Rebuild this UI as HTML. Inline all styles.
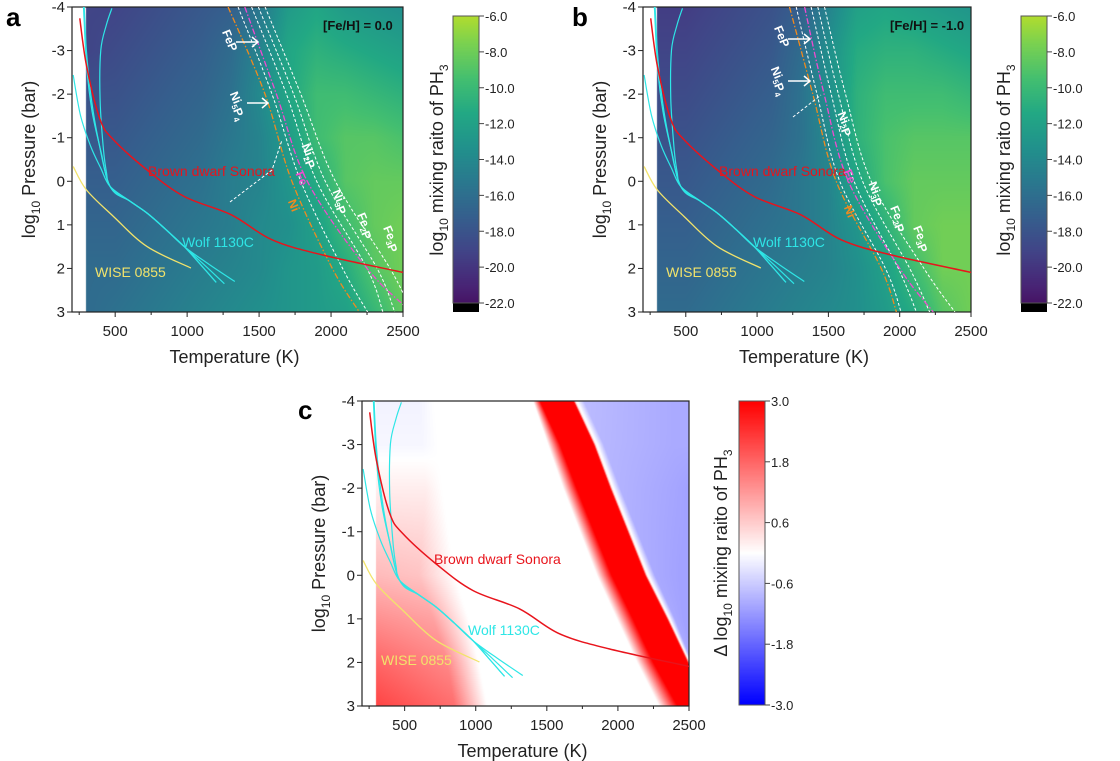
<!DOCTYPE html>
<html><head><meta charset="utf-8">
<style>
html,body{margin:0;padding:0;background:#fff;}
#wrap{position:relative;width:1120px;height:761px;overflow:hidden;font-family:"Liberation Sans",Arial,sans-serif;}
canvas{position:absolute;}
svg{position:absolute;left:0;top:0;}
</style></head>
<body>
<div id="wrap">
<canvas id="cva" width="331" height="305" style="left:72px;top:7px"></canvas>
<canvas id="cvb" width="328" height="305" style="left:643px;top:7px"></canvas>
<canvas id="cvc" width="327" height="305" style="left:362px;top:401px"></canvas>
<canvas id="cba" width="26" height="305" style="left:453px;top:7px"></canvas>
<canvas id="cbb" width="26" height="305" style="left:1021px;top:7px"></canvas>
<canvas id="cbc" width="26" height="304" style="left:739px;top:401px"></canvas>
<svg id="svg" width="1120" height="761" xmlns="http://www.w3.org/2000/svg"></svg>
</div>
<script>
// ---------- data ----------
const gridT = [300,500,700,900,1100,1300,1500,1700,1900,2100,2300,2500];
const gridP = [-4,-3,-2,-1,0,1,2,3];
const ph3A = [
 [-20,-20,-19.5,-19,-18.5,-18,-16,-13,-12,-13,-13.5,-14],
 [-20,-19.5,-19,-18.5,-18,-17,-15,-12,-11,-11.5,-12,-12.5],
 [-19,-19,-18.5,-18,-17.5,-16.5,-14.5,-12,-10,-10,-10.5,-11],
 [-18.5,-18.5,-18,-17.5,-17,-16,-15,-13,-10,-9,-9,-9.5],
 [-18,-18,-17.5,-17,-16.5,-15.5,-15,-13.5,-11.5,-9,-8.5,-8.5],
 [-17.5,-17.5,-17,-16.5,-16,-15.5,-14.5,-14,-12.5,-10,-8.5,-8],
 [-17,-17,-16.5,-16,-15.5,-15,-14.5,-13.5,-13,-11.5,-9,-8],
 [-17,-16.5,-16,-15.5,-15,-14.5,-14,-13.5,-13,-12.5,-10.5,-8.5]];
const ph3B = [
 [-20.5,-20.5,-20,-19.5,-19,-18,-15,-12.5,-12,-12.5,-13,-13.5],
 [-20,-20,-19.5,-19,-18.5,-17,-14,-11.5,-11,-11,-11.5,-12],
 [-19.5,-19.5,-19,-18.5,-18,-16.5,-14,-11,-10,-10,-10,-10.5],
 [-19,-19,-18.5,-18,-17.5,-16.5,-14.5,-11,-9.5,-9,-9,-9],
 [-18.5,-18.5,-18,-17.5,-17,-16,-15,-12,-9.5,-8.5,-8.5,-8.5],
 [-18,-18,-17.5,-17,-16.5,-16,-15,-13.5,-11,-8.5,-8,-8],
 [-17.5,-17.5,-17,-16.5,-16,-15.5,-15,-14,-12.5,-10,-8,-8],
 [-17,-17,-16.5,-16,-15.5,-15,-14.5,-14,-13,-11.5,-9,-8]];
// panel c: per-pressure rows of (temperature keypoint, delta value) pairs
const deltaRowP = [-4,-3,-2,0,1,2,3];
const deltaRowT = [
 [300,600,700,1403,1452,1687,1700,1760,2400,2500],
 [300,620,730,1508,1593,1830,1843,1900,2400,2500],
 [300,650,760,1615,1710,1945,1958,2015,2400,2500],
 [300,600,850,1852,1957,2191,2204,2260,2450,2500],
 [300,700,950,1993,2107,2345,2358,2400,2470,2500],
 [300,800,1020,2135,2250,2490,2503,2520,2540,2560],
 [300,850,1080,2290,2420,2640,2655,2670,2680,2690]];
const deltaRowV = [
 [-0.15,-0.15,0,0,3,3,0.2,-0.8,-1,-1],
 [-0.1,-0.1,0,0,3,3,0.2,-0.85,-1,-1],
 [0.2,0.2,0,0,3,3,0.2,-0.9,-1.05,-1.1],
 [0.8,0.7,0,0,3,3,0.2,-1,-1.1,-1.1],
 [1.3,1.1,0,0,3,3,0.2,-1,-1.1,-1.1],
 [1.8,1.4,0,0,3,3,0.2,-1,-1.1,-1.1],
 [2.2,1.7,0,0,3,3,0.2,-1,-1.1,-1.1]];

const sonoraT = [254,302,396,489,722,980,1307,1588,1939,2500];
const sonoraP = [-3.74,-2.63,-1.41,-0.95,-0.26,0.35,0.77,1.34,1.69,2.09];
const wiseT = [208,301,489,722,1026];
const wiseP = [-0.34,0.2,0.81,1.5,1.99];
const wolf1T = [280,302,340,400,465,600,722,850,980,1090,1202];
const wolf1P = [-4,-2.63,-1.6,-0.7,0.12,0.45,0.73,1.1,1.5,1.9,2.32];
const wolf2T = [208,260,330,400,465,600,722,850,980,1120,1259];
const wolf2P = [-2.44,-1.5,-0.8,-0.3,0.12,0.45,0.73,1.1,1.5,1.92,2.35];
const wolf3T = [477,440,400,395,419,440,465,600,722,850,980,1150,1331];
const wolf3P = [-3.97,-3.6,-3.01,-1.87,-0.72,-0.2,0.12,0.45,0.73,1.1,1.5,1.9,2.3];
const wolf4T = [285,300,330,380,465,600,722,850,980,1090,1202];
const wolf4P = [-4,-3,-2,-1,0.12,0.45,0.73,1.1,1.5,1.9,2.32];

const boundP = [-4,-2,0,2,3];
const niA  = [1285,1541,1728,2009,2196];
const feA  = [1401,1620,1835,2250,2560];
const w1A  = [1354,1590,1790,2080,2254];
const w2A  = [1448,1690,1900,2250,2360];
const w3A  = [1495,1740,1960,2320,2442];
const w4A  = [1542,1790,2030,2410,2560];
const niB  = [1227,1391,1555,1870,1977];
const feB  = [1333,1470,1640,2000,2235];
const w1B  = [1274,1420,1580,1900,2010];
const w2B  = [1379,1520,1680,1990,2117];
const w3B  = [1426,1570,1740,2070,2210];
const w4B  = [1473,1620,1800,2170,2387];

const xTicks = [500,1000,1500,2000,2500];
const xMinor = [250,750,1250,1750,2250];
const yTicks = [-4,-3,-2,-1,0,1,2,3];
const cbTicksAB = [-6,-8,-10,-12,-14,-16,-18,-20,-22];
const cbTicksC = [3.0,1.8,0.6,-0.6,-1.8,-3.0];

// ---------- geometry ----------
const T0=200,T1=2500,P0=-4,P1=3;
const panels = {
 a:{x:72,y:7,w:331,h:305},
 b:{x:643,y:7,w:328,h:305},
 c:{x:362,y:401,w:327,h:305}
};
function sx(p,T){return p.x+(T-T0)/(T1-T0)*p.w;}
function sy(p,P){return p.y+(P-P0)/(P1-P0)*p.h;}

// ---------- colormaps ----------
const vir=[[68,1,84],[72,36,117],[65,68,135],[53,95,141],[42,120,142],[33,145,140],[34,168,132],[68,191,112],[122,209,81],[189,223,38],[253,231,37]];
function viridis(v){
  let t=0.3+(v+18)*0.0483; t=Math.max(0,Math.min(1,t));
  const f=t*10,i=Math.min(9,Math.floor(f)),r=f-i;
  return vir[i].map((c,k)=>Math.round(c+(vir[i+1][k]-c)*r));
}
function bwr(d){
  d=Math.max(-3,Math.min(3,d));
  if(d>=0){const s=d/3;return [255,Math.round(255*(1-s)),Math.round(255*(1-s))];}
  const s=-d/3;return [Math.round(255*(1-s)),Math.round(255*(1-s)),255];
}
function interp(grid,Ts,T,P){
  let i=0;while(i<Ts.length-2&&T>Ts[i+1])i++;
  let j=0;while(j<gridP.length-2&&P>gridP[j+1])j++;
  let u=(T-Ts[i])/(Ts[i+1]-Ts[i]);u=Math.max(0,Math.min(1,u));
  let v=(P-gridP[j])/(gridP[j+1]-gridP[j]);v=Math.max(0,Math.min(1,v));
  const a=grid[j][i],b=grid[j][i+1],c=grid[j+1][i],d=grid[j+1][i+1];
  return (a*(1-u)+b*u)*(1-v)+(c*(1-u)+d*u)*v;
}
function interpDelta(T,P){
  let j=0;while(j<deltaRowP.length-2&&P>deltaRowP[j+1])j++;
  let v=(P-deltaRowP[j])/(deltaRowP[j+1]-deltaRowP[j]);v=Math.max(0,Math.min(1,v));
  const n=deltaRowT[j].length;
  const ks=[],vs=[];
  for(let k=0;k<n;k++){ks.push(deltaRowT[j][k]*(1-v)+deltaRowT[j+1][k]*v);vs.push(deltaRowV[j][k]*(1-v)+deltaRowV[j+1][k]*v);}
  if(T<=ks[0])return vs[0];
  for(let k=0;k<n-1;k++){if(T<=ks[k+1]){const u=(T-ks[k])/(ks[k+1]-ks[k]);return vs[k]*(1-u)+vs[k+1]*u;}}
  return vs[n-1];
}
function drawHeat(id,p,fn,cmap){
  const cv=document.getElementById(id),ctx=cv.getContext('2d');
  const im=ctx.createImageData(cv.width,cv.height);
  for(let y=0;y<cv.height;y++)for(let x=0;x<cv.width;x++){
    const T=T0+(x+0.5)/p.w*(T1-T0),P=P0+(y+0.5)/p.h*(P1-P0);
    let col=[255,255,255];
    if(T>=300) col=cmap(fn(T,P));
    const k=(y*cv.width+x)*4;im.data[k]=col[0];im.data[k+1]=col[1];im.data[k+2]=col[2];im.data[k+3]=255;
  }
  ctx.putImageData(im,0,0);
}
drawHeat('cva',panels.a,(T,P)=>interp(ph3A,gridT,T,P),viridis);
drawHeat('cvb',panels.b,(T,P)=>interp(ph3B,gridT,T,P),viridis);
drawHeat('cvc',panels.c,interpDelta,bwr);

function drawCbAB(id){
  const cv=document.getElementById(id),ctx=cv.getContext('2d');
  for(let y=0;y<cv.height;y++){
    let col;
    if(y<9) col=[255,255,255]; else if(y>=296) col=[0,0,0];
    else {const v=-6-(y-9)/(296-9)*16; let t=0.88-(-6-v)/16*0.83; t=Math.max(0,Math.min(1,t));
      const f=t*10,i=Math.min(9,Math.floor(f)),r=f-i; col=vir[i].map((c,k)=>Math.round(c+(vir[i+1][k]-c)*r));}
    ctx.fillStyle='rgb('+col.join(',')+')';ctx.fillRect(0,y,26,1);
  }
}
drawCbAB('cba');drawCbAB('cbb');
(function(){const cv=document.getElementById('cbc'),ctx=cv.getContext('2d');
  for(let y=0;y<cv.height;y++){const col=bwr(3-y/(cv.height-1)*6);ctx.fillStyle='rgb('+col.join(',')+')';ctx.fillRect(0,y,26,1);}})();

// ---------- svg helpers ----------
const NS='http://www.w3.org/2000/svg';
const svg=document.getElementById('svg');
function mk(tag,attrs,parent){const e=document.createElementNS(NS,tag);for(const k in attrs)e.setAttribute(k,attrs[k]);(parent||svg).appendChild(e);return e;}
function smooth(pts){
  let d='M'+pts[0][0].toFixed(1)+','+pts[0][1].toFixed(1);
  for(let i=0;i<pts.length-1;i++){
    const p0=pts[i-1]||pts[i],p1=pts[i],p2=pts[i+1],p3=pts[i+2]||p2;
    const c1=[p1[0]+(p2[0]-p0[0])/6,p1[1]+(p2[1]-p0[1])/6],c2=[p2[0]-(p3[0]-p1[0])/6,p2[1]-(p3[1]-p1[1])/6];
    d+='C'+c1[0].toFixed(1)+','+c1[1].toFixed(1)+' '+c2[0].toFixed(1)+','+c2[1].toFixed(1)+' '+p2[0].toFixed(1)+','+p2[1].toFixed(1);
  }
  return d;
}
const defs=mk('defs',{});
for(const k in panels){const p=panels[k];const cp=mk('clipPath',{id:'clip'+k},defs);mk('rect',{x:p.x,y:p.y,width:p.w,height:p.h},cp);}

function curve(k,Ts,Ps,style,name){
  const p=panels[k];
  const pts=Ts.map((T,i)=>[sx(p,T),sy(p,Ps[i])]);
  const e=mk('path',Object.assign({d:smooth(pts),fill:'none','clip-path':'url(#clip'+k+')'},style));
  
  
}
function text(x,y,str,attrs,name){
  const e=mk('text',Object.assign({x:x,y:y,'font-family':'Liberation Sans, Arial, sans-serif'},attrs));
  e.innerHTML=str;
  
  
  return e;
}

function axes(k){
  const p=panels[k];
  const g=mk('g',{});
  
  
  mk('rect',{x:p.x,y:p.y,width:p.w,height:p.h,fill:'none',stroke:'#222','stroke-width':1.2},g);
  xTicks.forEach(t=>{const x=sx(p,t);mk('line',{x1:x,x2:x,y1:p.y+p.h,y2:p.y+p.h+5,stroke:'#222'},g);
    text(x,p.y+p.h+24,String(t),{'font-size':15,'text-anchor':'middle',fill:'#222'},'x-tick-label');});
  xMinor.forEach(t=>{const x=sx(p,t);mk('line',{x1:x,x2:x,y1:p.y+p.h,y2:p.y+p.h+3,stroke:'#222'},g);});
  yTicks.forEach(t=>{const y=sy(p,t);mk('line',{x1:p.x-5,x2:p.x,y1:y,y2:y,stroke:'#222'},g);
    text(p.x-7,y+5,String(t),{'font-size':15,'text-anchor':'end',fill:'#222'},'y-tick-label');});
  text(p.x+p.w/2-3,p.y+p.h+51,'Temperature (K)',{'font-size':18,'text-anchor':'middle',fill:'#222'},'x-axis-title');
  const cy=p.y+p.h/2, cx=p.x-37;
  text(cx,cy,'log<tspan font-size="12" dy="5">10</tspan><tspan dy="-5"> Pressure (bar)</tspan>',{'font-size':18,'text-anchor':'middle',fill:'#222',transform:'rotate(-90 '+cx+' '+cy+')'},'y-axis-title');
}
['a','b','c'].forEach(axes);

function profiles(k){
  curve(k,wiseT,wiseP,{stroke:'#f2e36b','stroke-width':1.3},'wise-0855-profile');
  curve(k,wolf1T,wolf1P,{stroke:'#2ee6e6','stroke-width':1.2},'wolf-1130c-profile-1');
  curve(k,wolf2T,wolf2P,{stroke:'#2ee6e6','stroke-width':1.2},'wolf-1130c-profile-2');
  curve(k,wolf3T,wolf3P,{stroke:'#2ee6e6','stroke-width':1.2},'wolf-1130c-profile-3');
  curve(k,wolf4T,wolf4P,{stroke:'#2ee6e6','stroke-width':1.2},'wolf-1130c-profile-4');
  curve(k,sonoraT,sonoraP,{stroke:'#e8141c','stroke-width':1.5},'sonora-profile');
}
function bounds(k,ni,fe,ws){
  ws.forEach((w,i)=>curve(k,w,boundP,{stroke:'#fff','stroke-width':1,'stroke-dasharray':'3,2'},'phosphide-boundary-'+(i+1)));
  curve(k,ni,boundP,{stroke:'#f08a1e','stroke-width':1.3,'stroke-dasharray':'6,2,1.5,2'},'ni-boundary');
  curve(k,fe,boundP,{stroke:'#f04ad0','stroke-width':1.3,'stroke-dasharray':'6,2,1.5,2'},'fe-boundary');
}
bounds('a',niA,feA,[w1A,w2A,w3A,w4A]);
bounds('b',niB,feB,[w1B,w2B,w3B,w4B]);
profiles('a');profiles('b');profiles('c');

function profLabels(k,dx,dy){
  const p=panels[k];
  text(p.x+76+dx,p.y+169+dy,'Brown dwarf Sonora',{'font-size':14,fill:'#e8141c'},'sonora-label');
  text(p.x+110+dx,p.y+240+dy,'Wolf 1130C',{'font-size':14,fill:'#2ee6e6'},'wolf-label');
  text(p.x+23+dx,p.y+270+dy,'WISE 0855',{'font-size':14,fill:'#f2e36b'},'wise-label');
}
profLabels('a',0,0);profLabels('b',0,0);profLabels('c',-4,-6);

function rotLabel(x,y,str,col,name){
  text(x,y,str,{'font-size':12,'font-weight':'bold',fill:col,'text-anchor':'middle',transform:'rotate(68 '+x+' '+y+')'},name);
}
function arrow(x1,x2,y){
  const g=mk('g',{});
  
  
  mk('line',{x1:x1,x2:x2,y1:y,y2:y,stroke:'#fff','stroke-width':1.5},g);
  mk('path',{d:'M'+(x2-6)+','+(y-5)+'L'+x2+','+y+'L'+(x2-6)+','+(y+5),fill:'none',stroke:'#fff','stroke-width':1.5},g);
}
const sub=s=>'<tspan font-size="8" dy="3">'+s+'</tspan><tspan dy="-3"></tspan>';
rotLabel(226,42,'FeP','#fff','fep-label-a');
rotLabel(235,107,'Ni'+sub('5')+'P'+sub('4'),'#fff','ni5p4-label-a');
rotLabel(306,157,'Ni'+sub('2')+'P','#fff','ni2p-label-a');
rotLabel(298,180,'Fe','#f04ad0','fe-label-a');
rotLabel(290,207,'Ni','#f08a1e','ni-label-a');
rotLabel(337,203,'Ni'+sub('3')+'P','#fff','ni3p-label-a');
rotLabel(362,227,'Fe'+sub('2')+'P','#fff','fe2p-label-a');
rotLabel(388,240,'Fe'+sub('3')+'P','#fff','fe3p-label-a');
arrow(236,258,42);arrow(247,268,103);
mk('path',{d:'M230,202L272,170L282,140',fill:'none',stroke:'#fff','stroke-width':1,'stroke-dasharray':'3,2'});
rotLabel(778,38,'FeP','#fff','fep-label-b');
rotLabel(776,82,'Ni'+sub('5')+'P'+sub('4'),'#fff','ni5p4-label-b');
rotLabel(842,125,'Ni'+sub('2')+'P','#fff','ni2p-label-b');
rotLabel(846,178,'Fe','#f04ad0','fe-label-b');
rotLabel(846,213,'Ni','#f08a1e','ni-label-b');
rotLabel(873,195,'Ni'+sub('3')+'P','#fff','ni3p-label-b');
rotLabel(895,220,'Fe'+sub('2')+'P','#fff','fe2p-label-b');
rotLabel(918,240,'Fe'+sub('3')+'P','#fff','fe3p-label-b');
arrow(788,810,39);arrow(788,810,81);
mk('path',{d:'M793,117L821,95',fill:'none',stroke:'#fff','stroke-width':1,'stroke-dasharray':'3,2'});

text(323,30,'[Fe/H] = 0.0',{'font-size':13,'font-weight':'bold',fill:'#111'},'metallicity-label-a');
text(890,30,'[Fe/H] = -1.0',{'font-size':13,'font-weight':'bold',fill:'#111'},'metallicity-label-b');

text(6,26,'a',{'font-size':26,'font-weight':'bold',fill:'#000'},'panel-letter-a');
text(572,26,'b',{'font-size':26,'font-weight':'bold',fill:'#000'},'panel-letter-b');
text(298,419,'c',{'font-size':26,'font-weight':'bold',fill:'#000'},'panel-letter-c');

function cbAxis(x,y0,h,ticks,vTop,vBot,fmt,titleX,titleY,title,nm){
  const g=mk('g',{});
  
  
  mk('rect',{x:x,y:y0,width:26,height:h,fill:'none',stroke:'#555','stroke-width':1},g);
  ticks.forEach(t=>{const y=y0+(vTop-t)/(vTop-vBot)*h;
    mk('line',{x1:x+26,x2:x+31,y1:y,y2:y,stroke:'#444'},g);
    text(x+32,y+5,fmt(t),{'font-size':13,fill:'#222'},'colorbar-tick-label');});
  text(titleX,titleY,title,{'font-size':18,'text-anchor':'middle',fill:'#222',transform:'rotate(-90 '+titleX+' '+titleY+')'},'colorbar-title');
}
const ph3Title='log<tspan font-size="12" dy="5">10</tspan><tspan dy="-5"> mixing raito of PH</tspan><tspan font-size="12" dy="5">3</tspan>';
cbAxis(453,16,287,cbTicksAB,-6,-22,t=>t.toFixed(1),443,160,ph3Title,'colorbar-axis-a');
cbAxis(1021,16,287,cbTicksAB,-6,-22,t=>t.toFixed(1),1010,160,ph3Title,'colorbar-axis-b');
cbAxis(739,401,304,cbTicksC,3,-3,t=>t.toFixed(1),727,553,'Δ '+ph3Title,'colorbar-axis-c');
</script>
</body></html>
